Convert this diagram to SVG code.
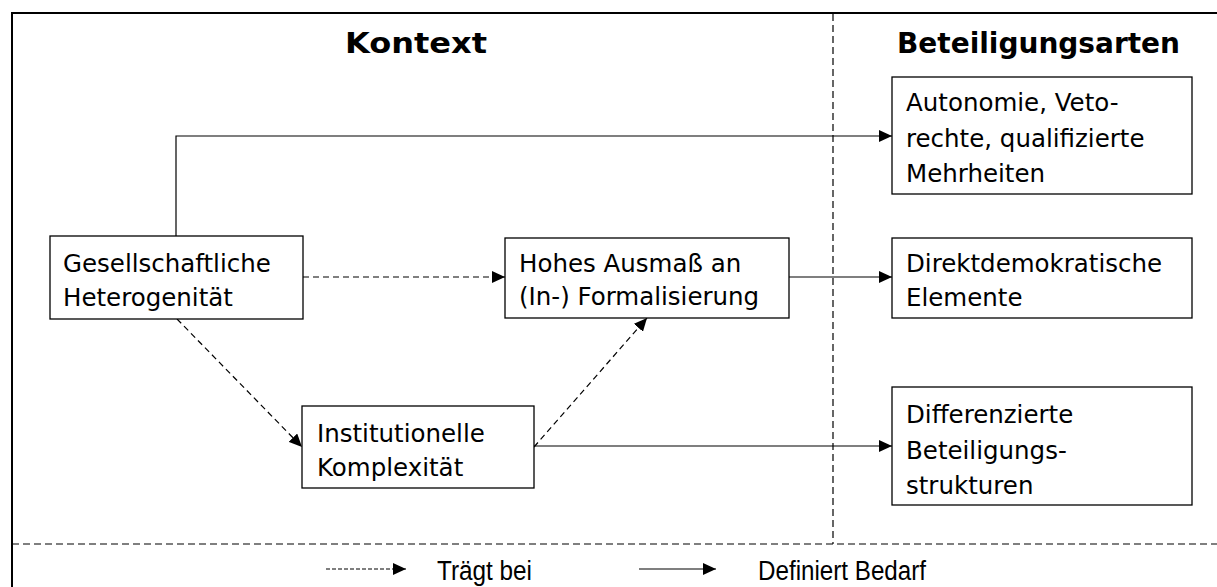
<svg xmlns="http://www.w3.org/2000/svg" width="1217" height="587" viewBox="0 0 1217 587">
<style>
.box{fill:#fff;stroke:#000;stroke-width:1.3}
.t{font-family:"DejaVu Sans",Verdana,sans-serif;font-size:24.5px;fill:#000}
.h{font-family:"DejaVu Sans",Verdana,sans-serif;font-size:28px;font-weight:bold;fill:#000}
.lg{font-family:"Liberation Sans Narrow","Liberation Sans",Arial,sans-serif;font-size:27px;fill:#000}
.c{fill:none;stroke:#000;stroke-width:1.2}
.d{stroke-dasharray:6 4}
.fr{fill:none;stroke:#000;stroke-width:2}
.dv{fill:none;stroke:#000;stroke-width:1.2;stroke-dasharray:7 4}
</style>
<defs>
<marker id="ah" markerUnits="userSpaceOnUse" markerWidth="14" markerHeight="12" refX="13" refY="6" orient="auto">
<path d="M0,0 L13,6 L0,12 Z" fill="#000"/>
</marker>
</defs>
<rect width="1217" height="587" fill="#fff"/>
<g id="frame">
<path class="fr" d="M12,587 L12,13 L1217,13"/>
<path class="dv" d="M833,14 L833,544"/>
<path class="dv" d="M12,544 L1217,544"/>
</g>
<g id="titles">
<text class="h" x="416" y="53" text-anchor="middle" textLength="142" lengthAdjust="spacingAndGlyphs">Kontext</text>
<text class="h" x="897" y="53" textLength="283" lengthAdjust="spacingAndGlyphs">Beteiligungsarten</text>
</g>
<g id="connectors">
<path class="c" d="M176,236 L176,136 L892,136" marker-end="url(#ah)"/>
<path class="c d" d="M303,277 L505,277" marker-end="url(#ah)"/>
<path class="c" d="M789,277 L892,277" marker-end="url(#ah)"/>
<path class="c d" d="M177,319 L302,447" marker-end="url(#ah)"/>
<path class="c d" d="M534,447 L647,318" marker-end="url(#ah)"/>
<path class="c" d="M534,446 L892,446" marker-end="url(#ah)"/>
</g>
<g id="n-gesellschaft">
<rect class="box" x="50" y="236" width="253" height="83"/>
<text class="t" x="63" y="272">Gesellschaftliche</text>
<text class="t" x="63" y="306">Heterogenität</text>
</g>
<g id="n-formalisierung">
<rect class="box" x="505" y="238" width="284" height="80"/>
<text class="t" x="519" y="272">Hohes Ausmaß an</text>
<text class="t" x="519" y="305">(In-) Formalisierung</text>
</g>
<g id="n-institutionell">
<rect class="box" x="302" y="406" width="232" height="82"/>
<text class="t" x="317" y="442">Institutionelle</text>
<text class="t" x="317" y="476">Komplexität</text>
</g>
<g id="n-autonomie">
<rect class="box" x="892" y="77" width="300" height="117"/>
<text class="t" x="906" y="111">Autonomie, Veto-</text>
<text class="t" x="906" y="147">rechte, qualifizierte</text>
<text class="t" x="906" y="182">Mehrheiten</text>
</g>
<g id="n-direkt">
<rect class="box" x="892" y="238" width="300" height="80"/>
<text class="t" x="906" y="272">Direktdemokratische</text>
<text class="t" x="906" y="306">Elemente</text>
</g>
<g id="n-differenziert">
<rect class="box" x="892" y="387" width="300" height="118"/>
<text class="t" x="906" y="423">Differenzierte</text>
<text class="t" x="906" y="459">Beteiligungs-</text>
<text class="t" x="906" y="494">strukturen</text>
</g>
<g id="legend">
<path class="c" d="M326,569 L406,569" stroke-dasharray="4 2" marker-end="url(#ah)"/>
<text class="lg" x="437" y="580" textLength="95" lengthAdjust="spacingAndGlyphs">Trägt bei</text>
<path class="c" d="M639,569 L716,569" marker-end="url(#ah)"/>
<text class="lg" x="758" y="580" textLength="168" lengthAdjust="spacingAndGlyphs">Definiert Bedarf</text>
</g>
</svg>
